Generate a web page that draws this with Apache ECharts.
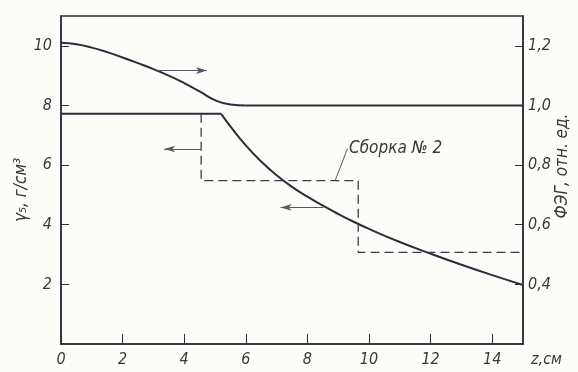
<!DOCTYPE html>
<html><head><meta charset="utf-8">
<script src="https://cdn.jsdelivr.net/npm/echarts@6/dist/echarts.min.js"></script>
<style>html,body{margin:0;padding:0;background:#fcfcf8}#c{width:578px;height:372px}</style>
</head><body><div id="c"></div>
<script>
// --- data ---
const xTicks = [0, 2, 4, 6, 8, 10, 12, 14];
const fegZ   = [0, 0.5, 1, 1.5, 2, 2.5, 3, 3.5, 4, 4.5, 5, 5.5, 6, 15];
const fegVal = [1.21, 1.205, 1.194, 1.179, 1.161, 1.142, 1.122, 1.100, 1.075, 1.047, 1.018, 1.003, 1.0, 1.0];
const densZ   = [0, 5.2, 5.5, 6, 6.5, 7, 7.5, 8, 8.5, 9, 9.5, 10, 11, 12, 13, 14, 15];
const densVal = [7.72, 7.72, 7.3, 6.66, 6.12, 5.66, 5.27, 4.94, 4.64, 4.36, 4.10, 3.86, 3.42, 3.03, 2.66, 2.31, 1.98];
const stepZ   = [4.55, 4.55, 9.65, 9.65, 15];
const stepVal = [7.72, 5.48, 5.48, 3.07, 3.07];
const leftTicks  = [2, 4, 6, 8, 10];
const rightTicks = [0.4, 0.6, 0.8, 1.0, 1.2];
const assemblyLabel = 'Сборка № 2';

const ink = '#2b2e3a';
const txt = '#383838';
const font = 'DejaVu Sans Condensed';

const zip = (a, b) => a.map((v, i) => [v, b[i]]);
const fegPts = zip(fegZ, fegVal);
const densPts = zip(densZ, densVal);
const chart = echarts.init(document.getElementById('c'));
const lblStyle = { fontFamily: font, fontStyle: 'italic', fontSize: 16, color: txt };

chart.setOption({
  backgroundColor: '#fcfcf8',
  animation: false,
  grid: { left: 61, right: 55, top: 16, bottom: 28, show: true, borderColor: ink, borderWidth: 1.5, backgroundColor: 'transparent' },
  xAxis: {
    type: 'value', min: 0, max: 15, interval: 2,
    name: 'z,см', nameLocation: 'end', nameGap: 8,
    nameTextStyle: Object.assign({}, lblStyle, { verticalAlign: 'top', padding: [8, 0, 0, 0] }),
    axisLine: { lineStyle: { color: ink, width: 1.5 } },
    axisTick: { inside: true, length: 10, lineStyle: { color: ink, width: 1 } },
    axisLabel: Object.assign({}, lblStyle, { margin: 8, showMaxLabel: false,
      formatter: v => xTicks.includes(v) ? String(v) : '' }),
    splitLine: { show: false }
  },
  yAxis: [{
    type: 'value', min: 0, max: 11, interval: 2, position: 'left',
    axisLine: { show: true, lineStyle: { color: ink, width: 1.5 } },
    axisTick: { inside: true, length: 8, lineStyle: { color: ink, width: 1 } },
    axisLabel: Object.assign({}, lblStyle, { margin: 9, showMinLabel: false, showMaxLabel: false,
      formatter: v => leftTicks.includes(v) ? String(v) : '' }),
    splitLine: { show: false }
  }, {
    type: 'value', min: 0.2, max: 1.3, interval: 0.2, position: 'right',
    axisLine: { show: true, lineStyle: { color: ink, width: 1.5 } },
    axisTick: { inside: true, length: 8, lineStyle: { color: ink, width: 1 } },
    axisLabel: Object.assign({}, lblStyle, { margin: 5, showMinLabel: false, showMaxLabel: false,
      formatter: v => rightTicks.some(t => Math.abs(t - v) < 1e-6) ? v.toFixed(1).replace('.', ',') : '' }),
    splitLine: { show: false }
  }],
  graphic: [
    { type: 'text', x: 22, y: 190, rotation: Math.PI / 2,
      style: { text: 'γ₅, г/см³', fontFamily: font, fontStyle: 'italic', fontSize: 17, fill: txt, align: 'center', verticalAlign: 'middle' } },
    { type: 'text', x: 563, y: 166, rotation: Math.PI / 2,
      style: { text: 'ФЭГ, отн. ед.', fontFamily: font, fontStyle: 'italic', fontSize: 17, fill: txt, align: 'center', verticalAlign: 'middle' } }
  ],
  series: [{
    type: 'line', yAxisIndex: 1, data: fegPts.slice(0, 13), smooth: true,
    symbol: 'none', lineStyle: { color: ink, width: 2 }
  }, {
    type: 'line', yAxisIndex: 1, data: fegPts.slice(12), symbol: 'none', lineStyle: { color: ink, width: 2 }
  }, {
    type: 'line', yAxisIndex: 0, data: densPts.slice(0, 2), symbol: 'none', lineStyle: { color: ink, width: 2 }
  }, {
    type: 'line', yAxisIndex: 0, data: densPts.slice(1), smooth: true,
    symbol: 'none', lineStyle: { color: ink, width: 2 }
  }, {
    type: 'line', yAxisIndex: 0, data: zip(stepZ, stepVal), symbol: 'none',
    lineStyle: { color: '#3a3d48', width: 1.3, type: [9, 5] },
    markLine: {
      silent: true, animation: false,
      label: { show: false },
      lineStyle: { color: '#555a66', width: 1, type: 'solid' },
      symbol: ['none', 'arrow'], symbolSize: [5, 11],
      data: [
        [{ coord: [3.13, 9.17] }, { coord: [4.74, 9.17] }],
        [{ coord: [4.55, 6.54] }, { coord: [3.35, 6.54] }],
        [{ coord: [8.52, 4.58] }, { coord: [7.13, 4.58] }],
        [{ coord: [9.3, 6.55], symbol: 'none' }, { coord: [8.9, 5.48], symbol: 'none' }]
      ]
    },
    markPoint: {
      silent: true, symbol: 'circle', symbolSize: 0,
      label: { show: true, formatter: assemblyLabel, position: 'right', distance: 0,
        fontFamily: font, fontStyle: 'italic', fontSize: 17, color: txt },
      data: [{ coord: [9.35, 6.55] }]
    }
  }]
});
</script></body></html>
